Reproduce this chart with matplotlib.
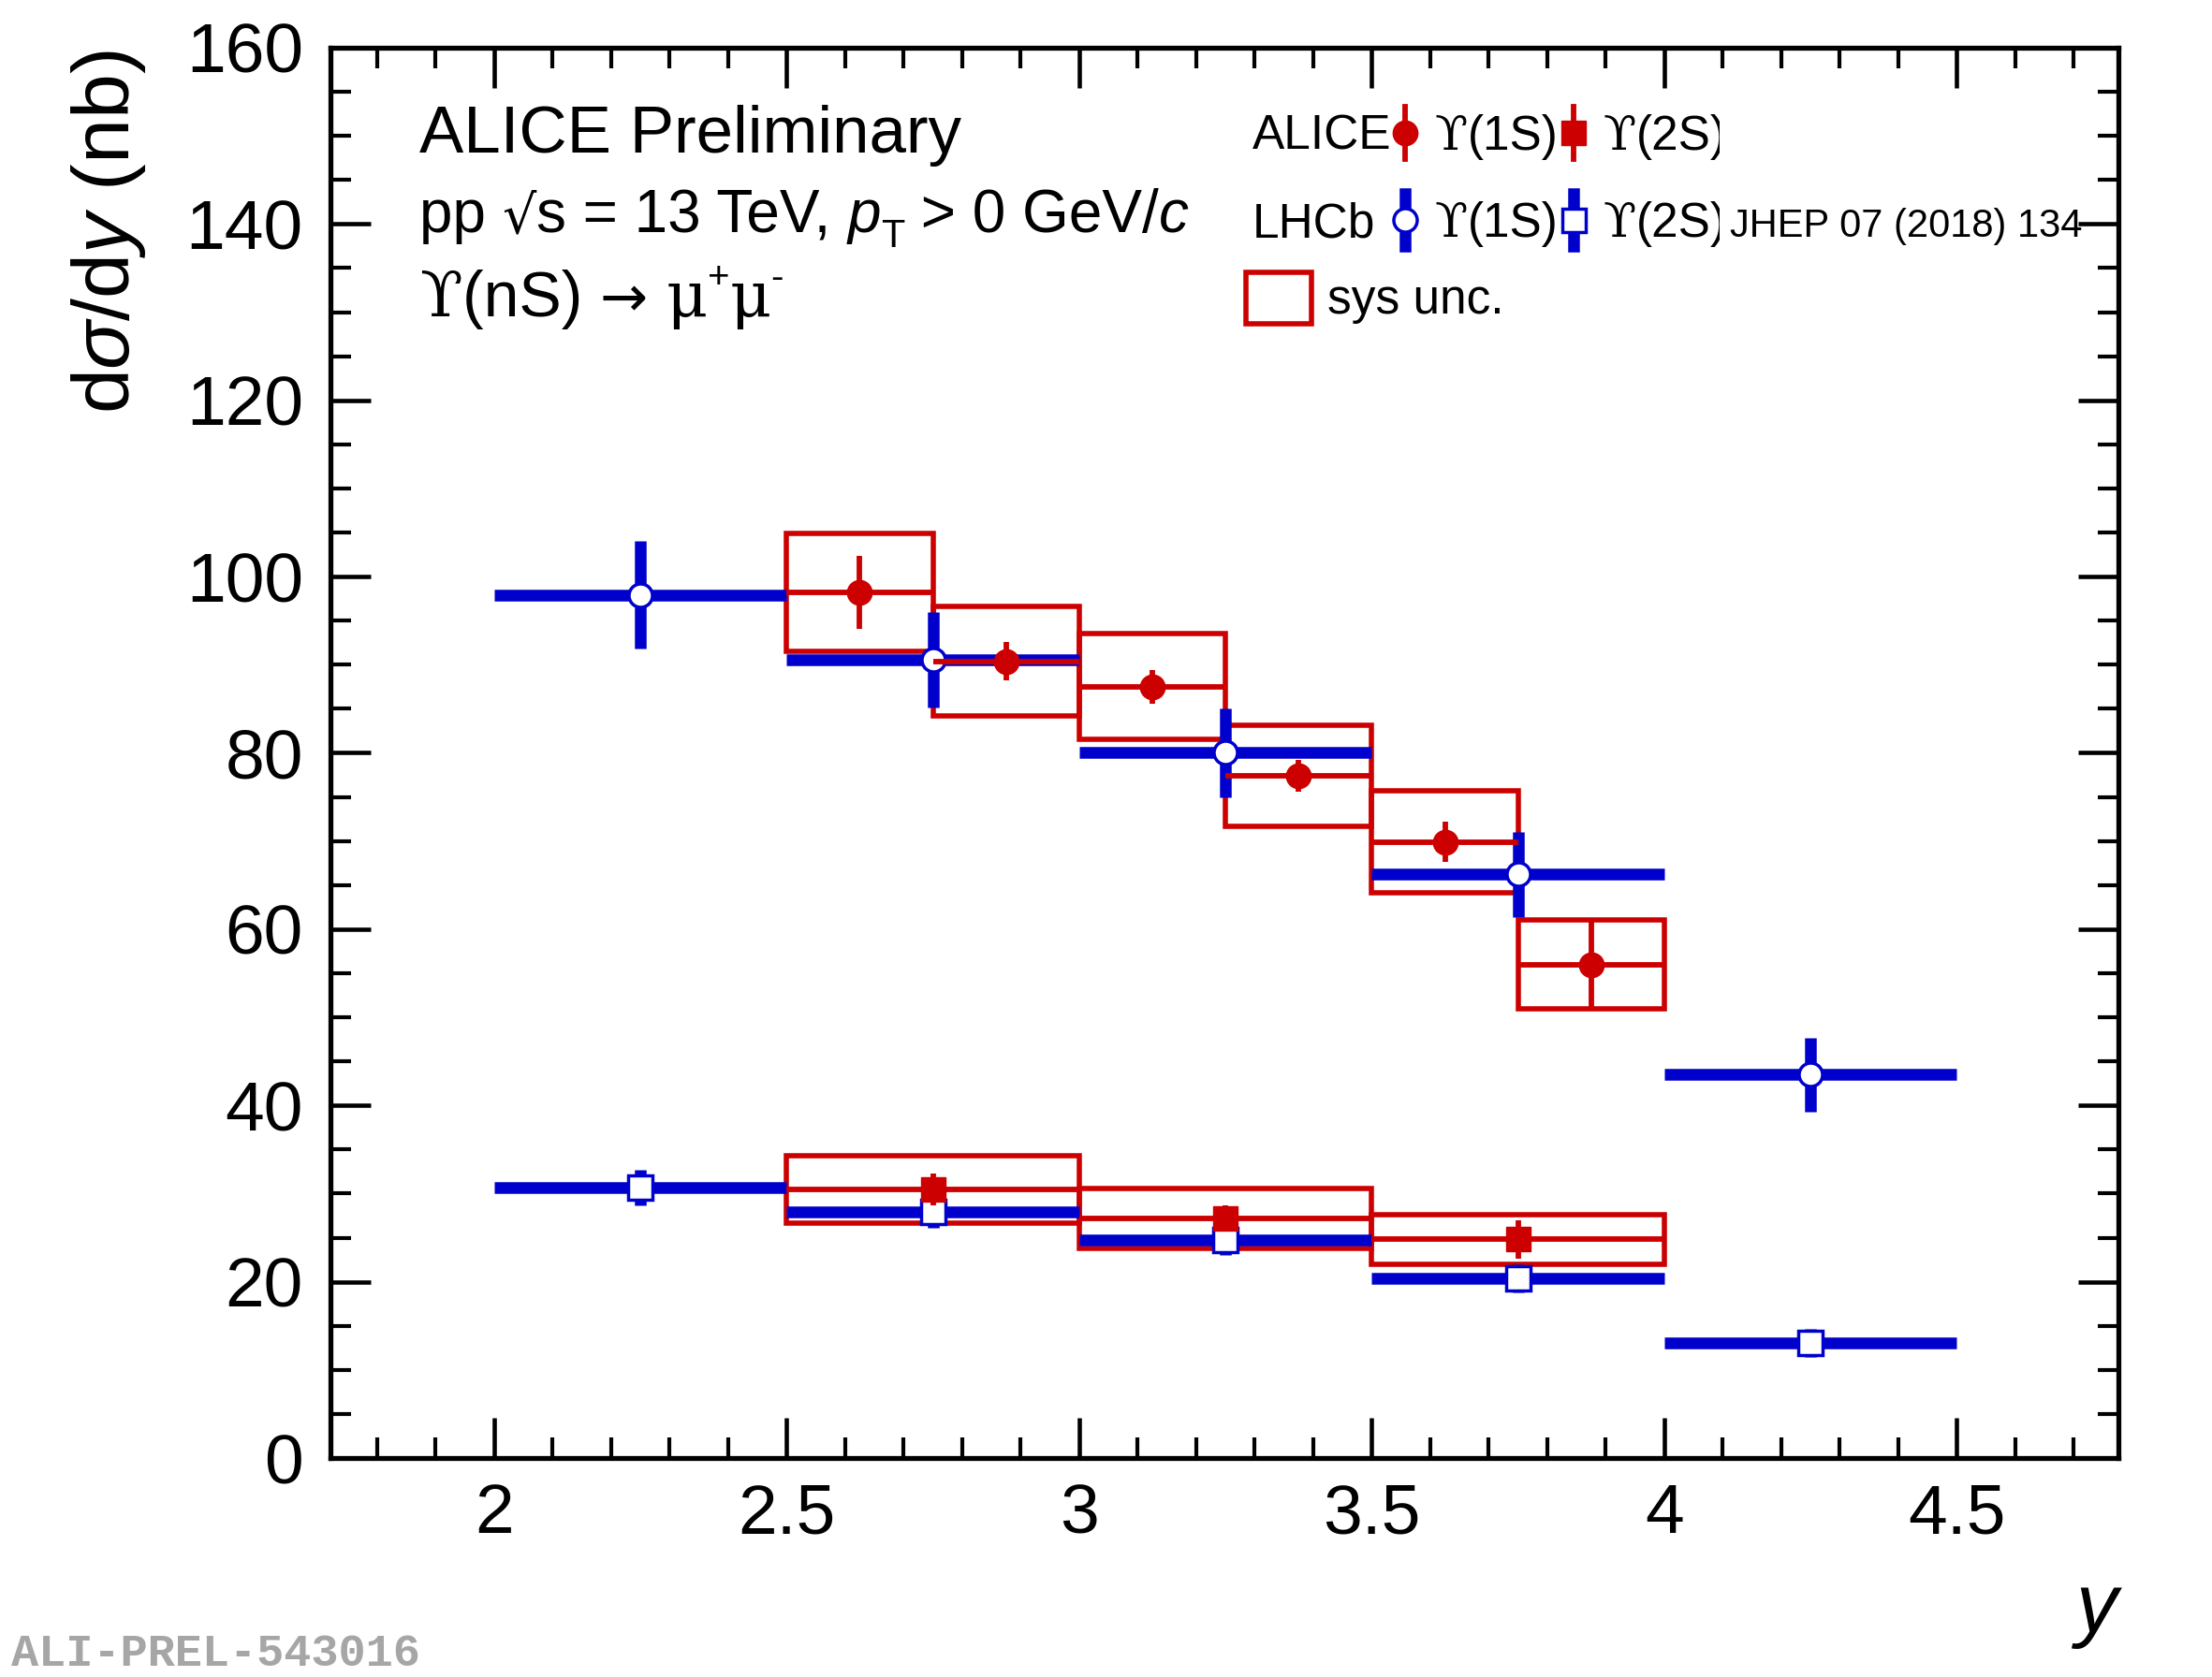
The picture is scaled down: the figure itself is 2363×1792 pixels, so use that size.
import matplotlib
matplotlib.use("Agg")
import matplotlib.pyplot as plt
from matplotlib.patches import Rectangle
from matplotlib.ticker import MultipleLocator, FuncFormatter
from matplotlib.transforms import Bbox

# === data ===
alice_1s_x = [2.625, 2.875, 3.125, 3.375, 3.625, 3.875]
alice_1s_hw = 0.125
alice_1s_y = [98.2, 90.4, 87.5, 77.4, 69.9, 56.0]
alice_1s_stat = [4.1, 2.2, 1.9, 1.8, 2.3, 5.2]
alice_1s_sys = [6.7, 6.2, 6.0, 5.7, 5.8, 5.0]

alice_2s_x = [2.75, 3.25, 3.75]
alice_2s_hw = 0.25
alice_2s_y = [30.5, 27.2, 24.8]
alice_2s_stat = [1.8, 1.5, 2.2]
alice_2s_sys = [3.8, 3.4, 2.8]

lhcb_x = [2.25, 2.75, 3.25, 3.75, 4.25]
lhcb_hw = 0.25
lhcb_1s_y = [97.9, 90.6, 80.0, 66.2, 43.5]
lhcb_1s_err = [6.1, 5.4, 5.0, 4.8, 4.2]
lhcb_2s_y = [30.7, 27.9, 24.7, 20.4, 13.1]
lhcb_2s_err = [2.0, 1.8, 1.7, 1.6, 1.6]

RED = "#cc0000"
BLUE = "#0000cc"
SANS = ["Liberation Sans", "DejaVu Sans"]
SERIF = ["DejaVu Serif"]

plt.rcParams["font.family"] = SANS
plt.rcParams["mathtext.fontset"] = "custom"
plt.rcParams["mathtext.rm"] = "Liberation Sans"
plt.rcParams["mathtext.it"] = "Liberation Sans:italic"
plt.rcParams["mathtext.bf"] = "Liberation Sans:bold"

W, H = 2363, 1792
fig = plt.figure(figsize=(W / 100, H / 100), dpi=100)
ax = fig.add_axes([353 / W, 1 - 1558 / H, (2263 - 353) / W, (1558 - 51) / H])
ax.set_xlim(1.7205, 4.776)
ax.set_ylim(0, 160)

# === sys boxes
for x, y, s in zip(alice_1s_x, alice_1s_y, alice_1s_sys):
    ax.add_patch(Rectangle((x - alice_1s_hw, y - s), 2 * alice_1s_hw, 2 * s,
                           fill=False, ec=RED, lw=4, zorder=2))
for x, y, s in zip(alice_2s_x, alice_2s_y, alice_2s_sys):
    ax.add_patch(Rectangle((x - alice_2s_hw, y - s), 2 * alice_2s_hw, 2 * s,
                           fill=False, ec=RED, lw=4, zorder=2))

# === LHCb
ax.errorbar(lhcb_x, lhcb_1s_y, xerr=lhcb_hw, yerr=lhcb_1s_err, fmt="o", color=BLUE,
            elinewidth=9, capsize=0, ms=18, mfc="white", mec=BLUE, mew=2.5, zorder=3)
ax.errorbar(lhcb_x, lhcb_2s_y, xerr=lhcb_hw, yerr=lhcb_2s_err, fmt="s", color=BLUE,
            elinewidth=9, capsize=0, ms=19, mfc="white", mec=BLUE, mew=2.5, zorder=3)

# === ALICE
ax.errorbar(alice_1s_x, alice_1s_y, xerr=alice_1s_hw, yerr=alice_1s_stat, fmt="o",
            color=RED, elinewidth=4.2, capsize=0, ms=19, zorder=4)
ax.errorbar(alice_2s_x, alice_2s_y, xerr=alice_2s_hw, yerr=alice_2s_stat, fmt="s",
            color=RED, elinewidth=4.2, capsize=0, ms=19, zorder=4)

# === axes style (ROOT like)
ax.xaxis.set_major_locator(MultipleLocator(0.5))
ax.xaxis.set_minor_locator(MultipleLocator(0.1))
ax.yaxis.set_major_locator(MultipleLocator(20))
ax.yaxis.set_minor_locator(MultipleLocator(5))
ax.xaxis.set_major_formatter(FuncFormatter(lambda v, p: "%g" % v))
ax.yaxis.set_major_formatter(FuncFormatter(lambda v, p: "%g" % v))
ax.tick_params(which="both", direction="in", top=True, right=True)
ax.tick_params(which="major", length=31, width=3.3, labelsize=54)
ax.tick_params(which="minor", length=16, width=3.0)
ax.tick_params(axis="x", which="major", pad=19)
ax.tick_params(axis="y", which="major", pad=21)
for sp in ax.spines.values():
    sp.set_linewidth(3.8)

fig.text(116 / W, 1 - 53 / H, r"d$\sigma$/d$y$ (nb)", rotation=90, ha="center",
         va="top", fontsize=62)
fig.text(2262 / W, 1 - 1743 / H, "y", style="italic", ha="right", va="baseline",
         fontsize=64)

renderer = fig.canvas.get_renderer()


def put(x, base, pieces):
    # draw text pieces one after the other, positions in pixels from top left
    for s, kw in pieces:
        dy = kw.pop("dy", 0)
        t = fig.text(x / W, 1 - (base - dy) / H, s, ha="left", va="baseline", **kw)
        x += t.get_window_extent(renderer).width
    return t


# === header
HF = 46
fig.text(448 / W, 1 - 163 / H, "ALICE Preliminary", fontsize=51)
put(448, 248, [("pp ", dict(fontsize=HF)),
               ("√", dict(family=["DejaVu Sans"], fontsize=41)),
               ("s = 13 TeV, ", dict(fontsize=HF)),
               ("p", dict(style="italic", fontsize=HF)),
               ("T", dict(fontsize=30, dy=-16)),
               (" > 0 GeV/", dict(fontsize=HF)),
               ("c", dict(style="italic", fontsize=HF))])
put(448, 338, [("ϒ", dict(family=SERIF, fontsize=48)),
               ("(nS) ", dict(fontsize=49)),
               ("→ ", dict(family=["DejaVu Sans"], fontsize=44)),
               ("μ", dict(family=SERIF, fontsize=49)),
               ("+", dict(fontsize=29, dy=30)),
               ("μ", dict(family=SERIF, fontsize=49)),
               ("-", dict(fontsize=29, dy=30))])

# === legend
LF = 37
fig.text(1338 / W, 1 - 160 / H, "ALICE", fontsize=LF)
fig.text(1338 / W, 1 - 253 / H, "LHCb", fontsize=LF)
clip = Bbox([[0, 0], [1837, H]])
for base in (160, 253):
    put(1533, base, [("ϒ", dict(family=SERIF, fontsize=LF)), ("(1S)", dict(fontsize=LF))])
    put(1713, base, [("ϒ", dict(family=SERIF, fontsize=LF)), ("(2S)", dict(fontsize=LF))])
for t in fig.texts:
    x0 = t.get_position()[0] * W
    if abs(x0 - 1713) < 80:
        t.set_clip_box(clip)
        t.set_clip_on(True)
fig.text(1848 / W, 1 - 253 / H, "JHEP 07 (2018) 134", fontsize=30)


def fx(px):
    return px / W


def fy(py):
    return 1 - py / H


for px, mk in ((1501, "o"), (1681, "s")):
    fig.add_artist(plt.Line2D([fx(px), fx(px)], [fy(114), fy(170)], color=RED, lw=4.2))
    fig.add_artist(plt.Line2D([fx(px)], [fy(142)], marker=mk, ms=19, color=RED, lw=0))
    fig.add_artist(plt.Line2D([fx(px), fx(px)], [fy(207), fy(263)], color=BLUE, lw=9))
    fig.add_artist(plt.Line2D([fx(px)], [fy(235)], marker=mk, ms=18, mfc="white",
                              mec=BLUE, mew=2.5, lw=0))
fig.add_artist(Rectangle((fx(1331), fy(346)), (1401 - 1331) / W, (346 - 291) / H,
                         transform=fig.transFigure, fill=False, ec=RED, lw=4))
fig.text(1418 / W, 1 - 335 / H, "sys unc.", fontsize=LF)

fig.text(12 / W, 1 - 1780 / H, "ALI-PREL-543016", family=["Liberation Mono"],
         weight="bold", color="#a6a6a6", fontsize=35)

fig.savefig("out.png", dpi=100, facecolor="white")
